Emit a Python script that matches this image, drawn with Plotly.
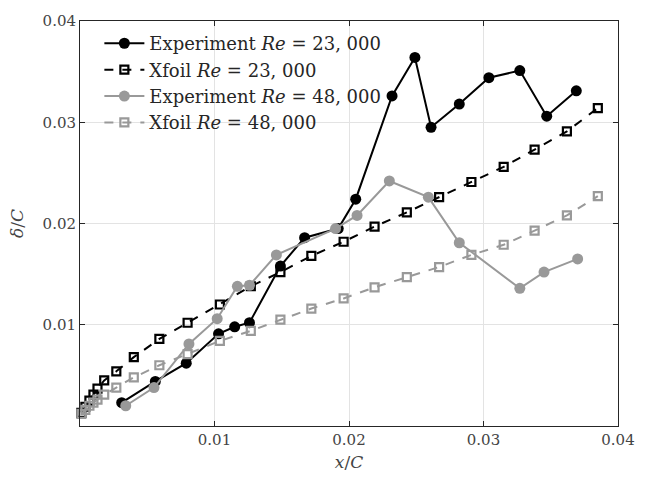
import plotly.graph_objects as go

# Experiment Re = 23,000
exp23_x = [0.0031, 0.0056, 0.0079, 0.0103, 0.0115, 0.0126, 0.0149, 0.0167, 0.0192, 0.0205,
           0.0232, 0.0249, 0.0261, 0.0282, 0.0304, 0.0327, 0.0347, 0.0369]
exp23_y = [0.0023, 0.0044, 0.0062, 0.0091, 0.0098, 0.0102, 0.0158, 0.0186, 0.0195, 0.0224,
           0.0326, 0.0364, 0.0295, 0.0318, 0.0344, 0.0351, 0.0306, 0.0331]

# Xfoil stations (shared)
xfoil_x = [0.0001, 0.0004, 0.0007, 0.0010, 0.0013, 0.0018, 0.0027, 0.0040, 0.0059, 0.0080,
           0.0104, 0.0127, 0.0149, 0.0172, 0.0196, 0.0219, 0.0243, 0.0267, 0.0291, 0.0315,
           0.0338, 0.0362, 0.0385]
xfoil23_y = [0.0013, 0.0019, 0.0025, 0.0031, 0.0037, 0.0045, 0.0054, 0.0068, 0.0086, 0.0102,
             0.0120, 0.0138, 0.0152, 0.0168, 0.0182, 0.0197, 0.0211, 0.0226, 0.0241, 0.0256,
             0.0273, 0.0291, 0.0314]

# Experiment Re = 48,000
exp48_x = [0.0034, 0.0055, 0.0081, 0.0102, 0.0117, 0.0126, 0.0146, 0.0190, 0.0206, 0.0230,
           0.0259, 0.0282, 0.0327, 0.0345, 0.0370]
exp48_y = [0.0020, 0.0038, 0.0081, 0.0106, 0.0138, 0.0139, 0.0169, 0.0195, 0.0208, 0.0242,
           0.0226, 0.0181, 0.0136, 0.0152, 0.0165]

xfoil48_y = [0.0012, 0.0016, 0.0020, 0.0023, 0.0026, 0.0031, 0.0038, 0.0048, 0.0060, 0.0071,
             0.0084, 0.0094, 0.0105, 0.0116, 0.0126, 0.0137, 0.0147, 0.0157, 0.0169, 0.0179,
             0.0193, 0.0208, 0.0227]

tick_vals = [0.01, 0.02, 0.03, 0.04]
tick_text = ["0.01", "0.02", "0.03", "0.04"]

BLACK = "#000000"
GRAY = "#999999"
FONT = "DejaVu Serif"

fig = go.Figure()
fig.add_trace(go.Scatter(
    x=exp23_x, y=exp23_y, mode="lines+markers", name="Experiment <i>Re</i> = 23, 000",
    line=dict(color=BLACK, width=2),
    marker=dict(symbol="circle", size=11, color=BLACK), cliponaxis=False))
fig.add_trace(go.Scatter(
    x=xfoil_x, y=xfoil23_y, mode="lines+markers", name="Xfoil <i>Re</i> = 23, 000",
    line=dict(color=BLACK, width=2, dash="dash"),
    marker=dict(symbol="square-open", size=8, color=BLACK, line=dict(width=2.2, color=BLACK)),
    cliponaxis=False))
fig.add_trace(go.Scatter(
    x=exp48_x, y=exp48_y, mode="lines+markers", name="Experiment <i>Re</i> = 48, 000",
    line=dict(color=GRAY, width=2),
    marker=dict(symbol="circle", size=11, color=GRAY), cliponaxis=False))
fig.add_trace(go.Scatter(
    x=xfoil_x, y=xfoil48_y, mode="lines+markers", name="Xfoil <i>Re</i> = 48, 000",
    line=dict(color=GRAY, width=2, dash="dash"),
    marker=dict(symbol="square-open", size=8, color=GRAY, line=dict(width=2.2, color=GRAY)),
    cliponaxis=False))

axis_common = dict(
    showgrid=True, gridcolor="#e3e3e3", gridwidth=1,
    showline=True, linecolor="#262626", linewidth=1, mirror="ticks",
    ticks="inside", ticklen=5, tickcolor="#262626",
    tickfont=dict(family=FONT, size=15, color="#444444"),
    zeroline=False, tickvals=tick_vals, ticktext=tick_text,
)

fig.update_layout(
    width=647, height=481,
    margin=dict(l=80, r=19, t=12, b=54),
    paper_bgcolor="white", plot_bgcolor="white",
    font=dict(family=FONT, color="#262626"),
    xaxis=dict(range=[0, 0.04], title=dict(text="<i>x</i>/<i>C</i>", font=dict(family=FONT, size=17, color="#444444"), standoff=8),
               **axis_common),
    yaxis=dict(range=[0, 0.04], title=dict(text="<i>δ</i>/<i>C</i>", font=dict(family=FONT, size=17, color="#444444"), standoff=14),
               **axis_common),
    legend=dict(x=0.036, y=0.99, xanchor="left", yanchor="top",
                bgcolor="rgba(255,255,255,0)", borderwidth=0,
                font=dict(family=FONT, size=18, color="#262626"),
                tracegroupgap=0, itemwidth=40),
    showlegend=True,
)

fig.write_html("out.html")
